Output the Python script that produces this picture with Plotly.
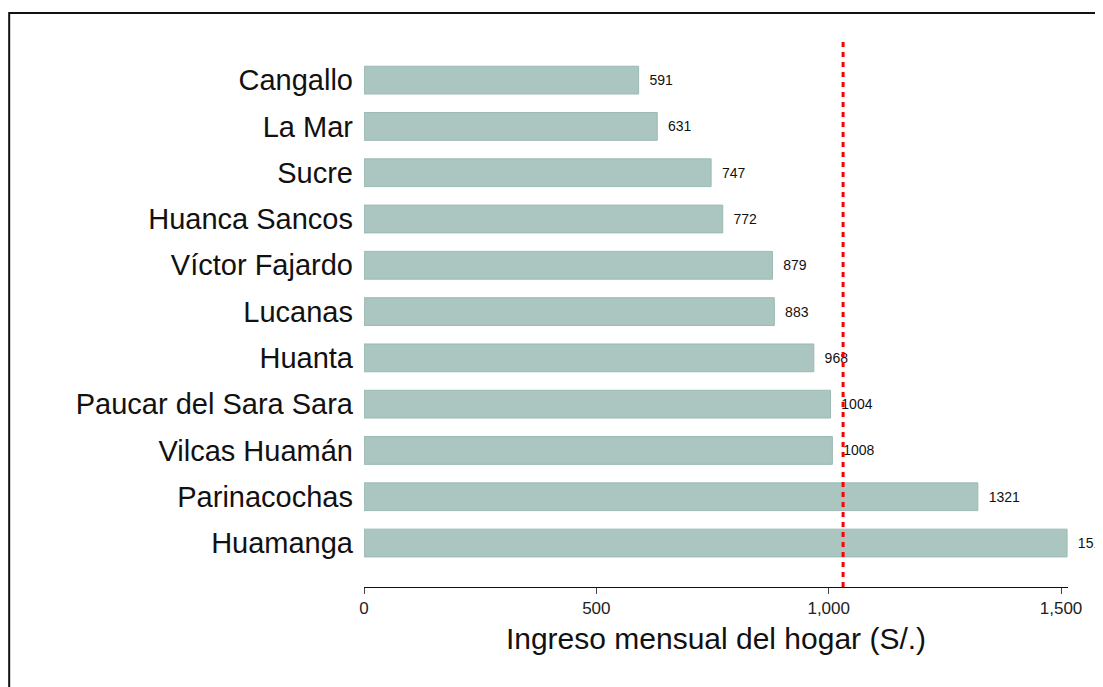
import plotly.graph_objects as go

provincias = ["Huamanga", "Parinacochas", "Vilcas Huamán", "Paucar del Sara Sara",
              "Huanta", "Lucanas", "Víctor Fajardo", "Huanca Sancos", "Sucre",
              "La Mar", "Cangallo"]
ingreso = [1513, 1321, 1008, 1004, 968, 883, 879, 772, 747, 631, 591]
promedio = 1031
x_ticks = [0, 500, 1000, 1500]
x_ticklabels = ["0", "500", "1,000", "1,500"]

fig = go.Figure()

fig.add_trace(go.Bar(
    x=ingreso,
    y=provincias,
    orientation='h',
    width=0.6,
    marker=dict(color='#abc5c0', line=dict(color='#9bbab4', width=1)),
    text=ingreso,
    texttemplate='\u00a0\u00a0%{x}',
    textposition='outside',
    textfont=dict(family='Liberation Sans, Arial', size=14, color='#111111'),
    cliponaxis=False,
    showlegend=False,
))

# promedio regional (linea roja punteada)
fig.add_shape(type='line', xref='x', yref='paper',
              x0=promedio, x1=promedio, y0=0, y1=1,
              line=dict(color='#ff0000', width=3, dash='5px,5px'),
              layer='above')

# marco exterior
fig.add_shape(type='rect', xref='paper', yref='paper',
              x0=-0.504, x1=1.08, y0=-0.25, y1=1.0455,
              line=dict(color='#111111', width=2), layer='above')

fig.update_layout(
    width=1095,
    height=679,
    margin=dict(l=356, r=35, t=30, b=100),
    plot_bgcolor='white',
    paper_bgcolor='white',
    font=dict(family='Liberation Sans, Arial', color='#111111'),
    xaxis=dict(
        range=[0, 1515],
        tickvals=x_ticks,
        ticktext=x_ticklabels,
        ticks='outside',
        ticklen=6,
        tickcolor='#444444',
        showline=True,
        linecolor='#111111',
        linewidth=1,
        showgrid=False,
        zeroline=False,
        tickfont=dict(size=17, color='#222222'),
        title=dict(text='Ingreso mensual del hogar (S/.)',
                   font=dict(size=30, color='#111111'), standoff=10),
    ),
    yaxis=dict(
        categoryorder='array',
        categoryarray=provincias,
        range=[-0.95, 10.91],
        showgrid=False,
        showline=False,
        zeroline=False,
        ticks='',
        ticklabelstandoff=10,
        tickfont=dict(size=29, color='#111111'),
    ),
)

fig.write_html("out.html")
